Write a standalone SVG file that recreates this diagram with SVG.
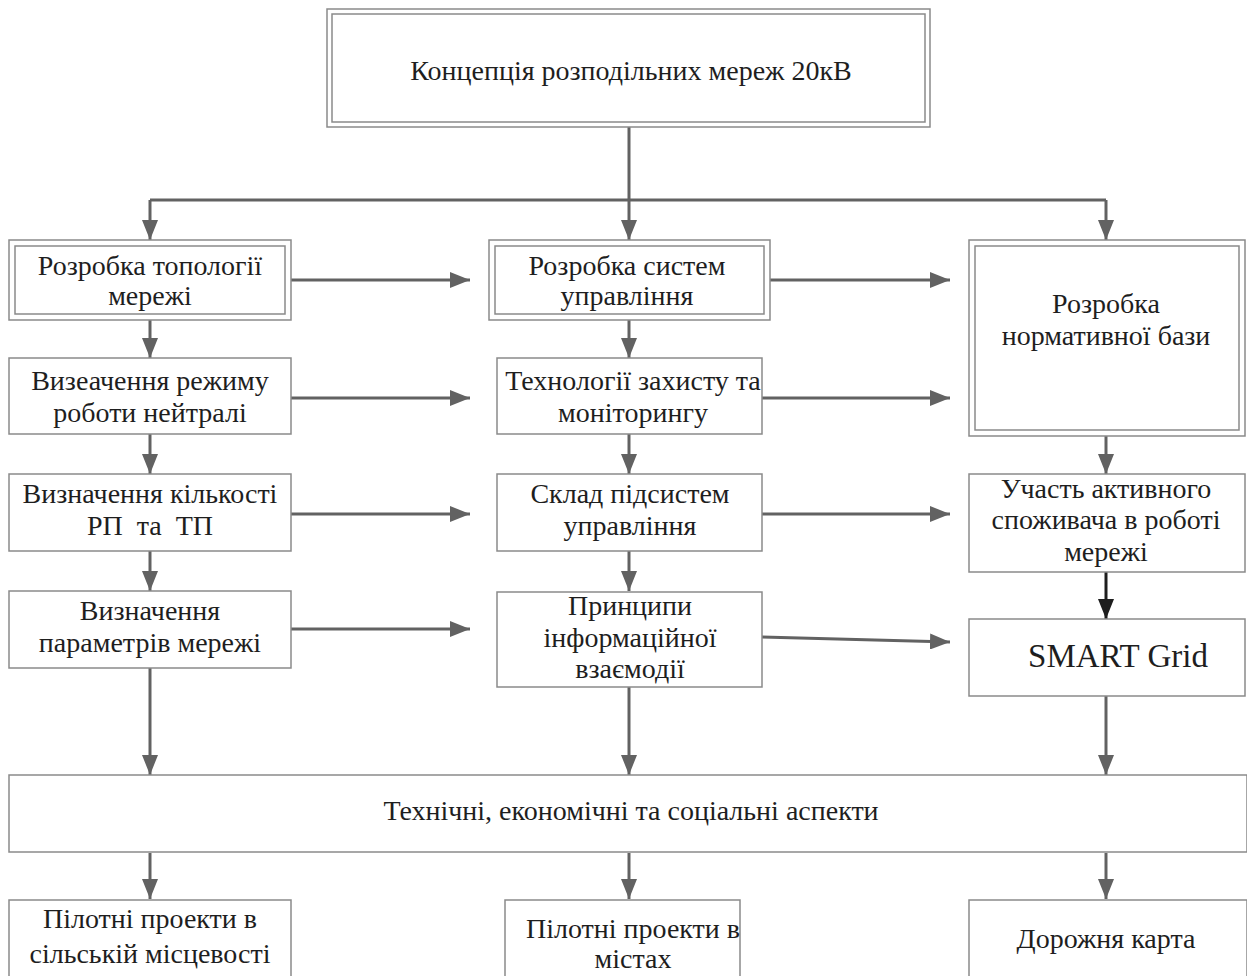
<svg xmlns="http://www.w3.org/2000/svg" width="1247" height="976" viewBox="0 0 1247 976">
<style>
.box{fill:#fff;stroke:#8a8a8a;stroke-width:1.5}
.t{font-family:'Liberation Serif','DejaVu Serif',serif;font-size:28px;fill:#1e1e1e;text-anchor:middle}
.c{fill:none;stroke:#626262;stroke-width:3}
.k{fill:none;stroke:#1e1e1e;stroke-width:3}
</style>
<defs>
<marker id="a" markerUnits="userSpaceOnUse" markerWidth="20" markerHeight="16" refX="20" refY="8" orient="auto">
<path d="M0,0 L20,8 L0,16 Z" fill="#626262"/>
</marker>
<marker id="b" markerUnits="userSpaceOnUse" markerWidth="20" markerHeight="16" refX="20" refY="8" orient="auto">
<path d="M0,0 L20,8 L0,16 Z" fill="#1e1e1e"/>
</marker>
</defs>
<rect width="1247" height="976" fill="#fff"/>
<g id="connectors">
<path class="c" d="M629,127 V200 M150,200 H1106"/>
<path class="c" marker-end="url(#a)" d="M150,200 V240"/>
<path class="c" marker-end="url(#a)" d="M629,200 V240"/>
<path class="c" marker-end="url(#a)" d="M1106,200 V240"/>
<path class="c" marker-end="url(#a)" d="M291,280 H470"/>
<path class="c" marker-end="url(#a)" d="M770,280 H950"/>
<path class="c" marker-end="url(#a)" d="M291,398 H470"/>
<path class="c" marker-end="url(#a)" d="M762,398 H950"/>
<path class="c" marker-end="url(#a)" d="M291,514 H470"/>
<path class="c" marker-end="url(#a)" d="M762,514 H950"/>
<path class="c" marker-end="url(#a)" d="M291,629 H470"/>
<path class="c" marker-end="url(#a)" d="M762,637 L950,642"/>
<path class="c" marker-end="url(#a)" d="M150,320 V358"/>
<path class="c" marker-end="url(#a)" d="M629,320 V358"/>
<path class="c" marker-end="url(#a)" d="M150,434 V474"/>
<path class="c" marker-end="url(#a)" d="M629,434 V474"/>
<path class="c" marker-end="url(#a)" d="M1106,436 V474"/>
<path class="c" marker-end="url(#a)" d="M150,551 V591"/>
<path class="c" marker-end="url(#a)" d="M629,551 V591"/>
<path class="k" marker-end="url(#b)" d="M1106,572 V619"/>
<path class="c" marker-end="url(#a)" d="M150,668 V775"/>
<path class="c" marker-end="url(#a)" d="M629,687 V775"/>
<path class="c" marker-end="url(#a)" d="M1106,696 V775"/>
<path class="c" marker-end="url(#a)" d="M150,853 V899"/>
<path class="c" marker-end="url(#a)" d="M629,853 V899"/>
<path class="c" marker-end="url(#a)" d="M1106,853 V899"/>
</g>
<g id="top">
<rect class="box" x="327" y="9" width="603" height="118"/>
<rect class="box" x="332" y="14" width="593" height="108"/>
<text class="t" x="631" y="80">Концепція розподільних мереж 20кВ</text>
</g>
<g id="a1">
<rect class="box" x="9" y="240" width="282" height="80"/>
<rect class="box" x="15" y="246" width="270" height="68"/>
<text class="t" x="150" y="275">Розробка топології</text>
<text class="t" x="150" y="305">мережі</text>
</g>
<g id="b1">
<rect class="box" x="489" y="240" width="281" height="80"/>
<rect class="box" x="495" y="246" width="269" height="68"/>
<text class="t" x="627" y="275">Розробка систем</text>
<text class="t" x="627" y="305">управління</text>
</g>
<g id="c1">
<rect class="box" x="969" y="240" width="276" height="196"/>
<rect class="box" x="975" y="246" width="264" height="184"/>
<text class="t" x="1106" y="313">Розробка</text>
<text class="t" x="1106" y="345">нормативної бази</text>
</g>
<g id="a2">
<rect class="box" x="9" y="358" width="282" height="76"/>
<text class="t" x="150" y="390">Визеачення режиму</text>
<text class="t" x="150" y="422">роботи нейтралі</text>
</g>
<g id="b2">
<rect class="box" x="497" y="358" width="265" height="76"/>
<text class="t" x="633" y="390">Технології захисту та</text>
<text class="t" x="633" y="422">моніторингу</text>
</g>
<g id="a3">
<rect class="box" x="9" y="474" width="282" height="77"/>
<text class="t" x="150" y="503">Визначення кількості</text>
<text class="t" x="150" y="535" xml:space="preserve">РП  та  ТП</text>
</g>
<g id="b3">
<rect class="box" x="497" y="474" width="265" height="77"/>
<text class="t" x="630" y="503">Склад підсистем</text>
<text class="t" x="630" y="535">управління</text>
</g>
<g id="c3">
<rect class="box" x="969" y="474" width="276" height="98"/>
<text class="t" x="1106" y="498">Участь активного</text>
<text class="t" x="1106" y="529">споживача в роботі</text>
<text class="t" x="1106" y="561">мережі</text>
</g>
<g id="a4">
<rect class="box" x="9" y="591" width="282" height="77"/>
<text class="t" x="150" y="620">Визначення</text>
<text class="t" x="150" y="652">параметрів мережі</text>
</g>
<g id="b4">
<rect class="box" x="497" y="592" width="265" height="95"/>
<text class="t" x="630" y="615">Принципи</text>
<text class="t" x="630" y="647">інформаційної</text>
<text class="t" x="630" y="678">взаємодії</text>
</g>
<g id="c4">
<rect class="box" x="969" y="619" width="276" height="77"/>
<text class="t" x="1118" y="667" style="font-size:33px">SMART Grid</text>
</g>
<g id="aspects">
<rect class="box" x="9" y="775" width="1238" height="77"/>
<text class="t" x="631" y="820">Технічні, економічні та соціальні аспекти</text>
</g>
<g id="d1">
<rect class="box" x="9" y="900" width="282" height="80"/>
<text class="t" x="150" y="928">Пілотні проекти в</text>
<text class="t" x="150" y="963">сільській місцевості</text>
</g>
<g id="d2">
<rect class="box" x="505" y="900" width="235" height="78"/>
<text class="t" x="633" y="938">Пілотні проекти в</text>
<text class="t" x="633" y="968">містах</text>
</g>
<g id="d3">
<rect class="box" x="969" y="900" width="278" height="78"/>
<text class="t" x="1106" y="948">Дорожня карта</text>
</g>
</svg>
